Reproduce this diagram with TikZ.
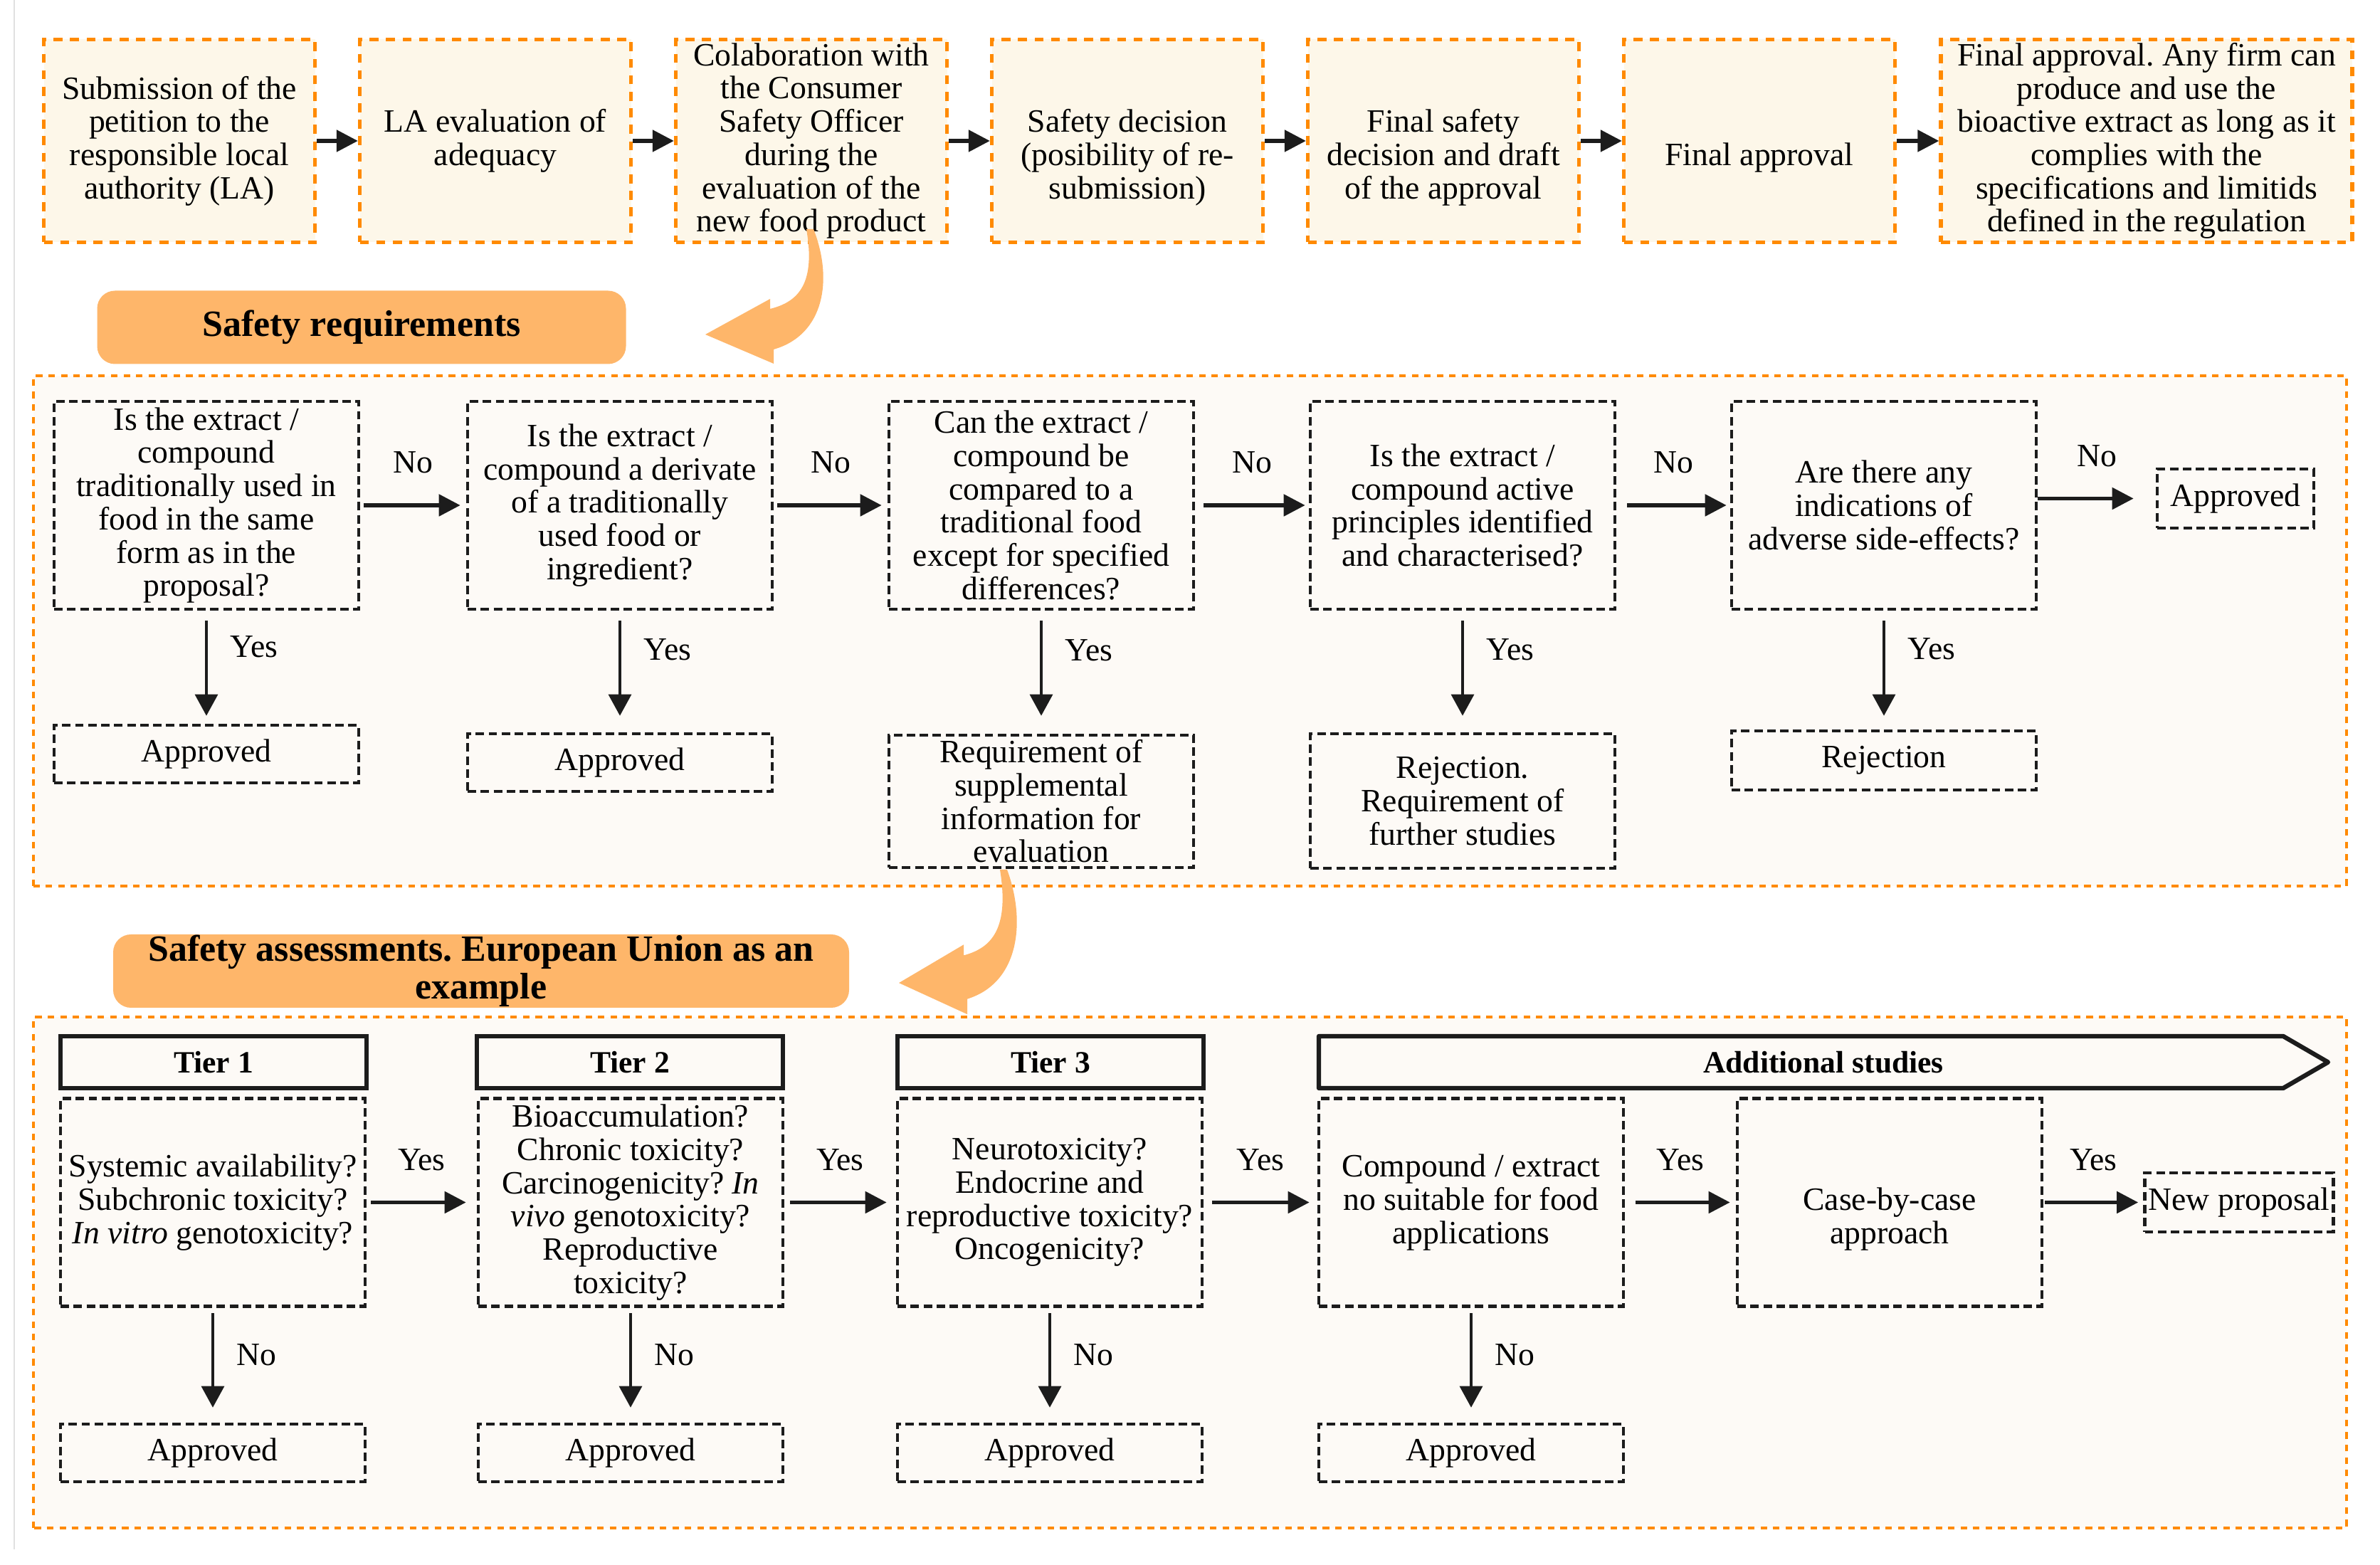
\documentclass[tikz,border=0pt]{standalone}
\usepackage{fontspec}
\setmainfont{Liberation Serif}
\usetikzlibrary{arrows.meta,positioning}
\frenchspacing

\definecolor{lineorange}{RGB}{255,138,0}
\definecolor{stagefill}{RGB}{253,247,233}
\definecolor{panelfill}{RGB}{253,250,246}
\definecolor{bannerfill}{RGB}{254,182,106}
\definecolor{ink}{RGB}{28,28,28}

\newcommand\bodyfont{\fontsize{13}{13.3}\selectfont}
\newcommand\bannerfont{\fontsize{14.8}{15.1}\selectfont\bfseries}
\newcommand\tierfont{\fontsize{12.4}{13}\selectfont\bfseries}
\newcommand\gapline{\rule{0pt}{9pt}\\}

\tikzset{
  stage/.style={draw=lineorange, fill=stagefill, line width=1.5pt, dash pattern=on 3.6pt off 3pt,
    minimum width=3.81cm, minimum height=2.85cm, inner sep=0pt, align=center, font=\bodyfont},
  query/.style={draw=ink, line width=1.3pt, dash pattern=on 3.4pt off 1.8pt,
    minimum width=4.28cm, minimum height=2.92cm, inner sep=0pt, align=center, font=\bodyfont},
  outcome/.style={query, minimum height=0.81cm},
  tierbox/.style={draw=ink, line width=1.8pt, minimum width=4.3cm, minimum height=0.73cm,
    inner sep=0pt, font=\tierfont},
  banner/.style={fill=bannerfill, rounded corners=0.25cm, minimum height=1.03cm, inner sep=0pt,
    align=center, font=\bannerfont},
  panel/.style={draw=lineorange, fill=panelfill, line width=1.3pt, dash pattern=on 2.6pt off 2.4pt},
  flow/.style={draw=ink, line width=1.5pt, -{Triangle[length=0.3cm,width=0.3cm]}},
  drop/.style={draw=ink, line width=0.9pt, -{Triangle[length=0.3cm,width=0.32cm]}},
  lbl/.style={font=\bodyfont, inner sep=0.1cm},
  bendarrow/.pic={
    \fill[bannerfill] (0.05,0) .. controls (0.32,-0.68) and (0.22,-1.48) .. (-0.51,-1.69)
      -- (-0.51,-1.89) -- (-1.47,-1.48) -- (-0.56,-0.98) -- (-0.56,-1.12)
      .. controls (-0.15,-1.02) and (0.08,-0.75) .. (-0.05,0) -- cycle;
  }
}

\begin{document}
\begin{tikzpicture}
  \useasboundingbox (0,0) rectangle (33.44,21.99);
  \draw[black!12, line width=0.6pt] (0.2,21.99) -- (0.2,0.22);

  \node[stage] (b1) at (2.52,20.01) {Submission of the\\petition to the\\responsible local\\authority (LA)};
  \node[stage] (b2) at (6.96,20.01) {LA evaluation of\\adequacy};
  \node[stage] (b3) at (11.40,20.01) {Colaboration with\\the Consumer\\Safety Officer\\during the\\evaluation of the\\new food product};
  \node[stage] (b4) at (15.84,20.01) {\gapline Safety decision\\(posibility of re-\\submission)};
  \node[stage] (b5) at (20.28,20.01) {\gapline Final safety\\decision and draft\\of the approval};
  \node[stage] (b6) at (24.72,20.01) {\gapline Final approval};
  \node[stage, minimum width=5.78cm] (b7) at (30.16,20.01) {Final approval. Any firm can\\produce and use the\\bioactive extract as long as it\\complies with the\\specifications and limitids\\defined in the regulation};

  \draw[flow] (b1) -- (b2);
  \draw[flow] (b2) -- (b3);
  \draw[flow] (b3) -- (b4);
  \draw[flow] (b4) -- (b5);
  \draw[flow] (b5) -- (b6);
  \draw[flow] (b6) -- (b7);

  \draw[panel] (0.47,9.54) rectangle (32.97,16.71);
  \node[banner, minimum width=7.43cm] (reqlabel) at (5.08,17.39) {Safety requirements};

  \node[query] (q1) at (2.90,14.89) {Is the extract /\\compound\\traditionally used in\\food in the same\\form as in the\\proposal?};
  \node[query] (q2) at (8.71,14.89) {Is the extract /\\compound a derivate\\of a traditionally\\used food or\\ingredient?};
  \node[query] (q3) at (14.63,14.89) {Can the extract /\\compound be\\compared to a\\traditional food\\except for specified\\differences?};
  \node[query] (q4) at (20.55,14.89) {Is the extract /\\compound active\\principles identified\\and characterised?};
  \node[query] (q5) at (26.47,14.89) {Are there any\\indications of\\adverse side-effects?};
  \node[outcome, minimum width=2.20cm, minimum height=0.83cm] (ok5) at (31.41,14.985) {Approved};

  \node[outcome] (a1) at (2.90,11.395) {Approved};
  \node[outcome] (a2) at (8.71,11.275) {Approved};
  \node[outcome, minimum height=1.86cm] (r3) at (14.63,10.73) {Requirement of\\supplemental\\information for\\evaluation};
  \node[outcome, minimum height=1.89cm] (r4) at (20.55,10.735) {Rejection.\\Requirement of\\further studies};
  \node[outcome, minimum height=0.83cm] (r5) at (26.47,11.305) {Rejection};

  \draw[flow, shorten <=0.05cm, shorten >=0.08cm] (q1) -- (q2) node[lbl, above=0.32cm, midway] (no1) {No};
  \draw[flow, shorten <=0.05cm, shorten >=0.08cm] (q2) -- (q3) node[lbl, above=0.32cm, midway] (no2) {No};
  \draw[flow, shorten <=0.12cm, shorten >=0.05cm] (q3) -- (q4) node[lbl, above=0.32cm, midway] (no3) {No};
  \draw[flow, shorten <=0.15cm, shorten >=0.05cm] (q4) -- (q5) node[lbl, above=0.32cm, midway] (no4) {No};
  \draw[flow, shorten >=0.31cm] (q5.east |- ok5) -- (ok5) node[lbl, above=0.32cm, midway] (no5) {No};

  \draw[drop, shorten <=0.14cm, shorten >=0.11cm] (q1) -- (a1) node[lbl, right=0.22cm, pos=0.32] (yes1) {Yes};
  \draw[drop, shorten <=0.14cm, shorten >=0.23cm] (q2) -- (a2) node[lbl, right=0.22cm, pos=0.32] (yes2) {Yes};
  \draw[drop, shorten <=0.14cm, shorten >=0.25cm] (q3) -- (r3) node[lbl, right=0.22cm, pos=0.32] (yes3) {Yes};
  \draw[drop, shorten <=0.14cm, shorten >=0.23cm] (q4) -- (r4) node[lbl, right=0.22cm, pos=0.32] (yes4) {Yes};
  \draw[drop, shorten <=0.14cm, shorten >=0.19cm] (q5) -- (r5) node[lbl, right=0.22cm, pos=0.32] (yes5) {Yes};

  \draw[panel] (0.47,0.52) rectangle (32.97,7.70);
  \node[banner, minimum width=10.34cm] (assesslabel) at (6.76,8.345) {Safety assessments. European Union as an\\example};

  \node[tierbox] (tier1) at (3.00,7.065) {Tier 1};
  \node[tierbox] (tier2) at (8.85,7.065) {Tier 2};
  \node[tierbox] (tier3) at (14.76,7.065) {Tier 3};
  \draw[draw=ink, line width=1.8pt, line join=round] (18.53,7.43) -- (32.08,7.43) -- (32.71,7.065) -- (32.08,6.70) -- (18.53,6.70) -- cycle;
  \node[font=\tierfont] (addlabel) at (25.62,7.065) {Additional studies};

  \node[query] (t1) at (2.99,5.095) {Systemic availability?\\Subchronic toxicity?\\\textit{In vitro} genotoxicity?};
  \node[query] (t2) at (8.86,5.095) {Bioaccumulation?\\Chronic toxicity?\\Carcinogenicity? \textit{In}\\\textit{vivo} genotoxicity?\\Reproductive\\toxicity?};
  \node[query] (t3) at (14.75,5.095) {Neurotoxicity?\\Endocrine and\\reproductive toxicity?\\Oncogenicity?};
  \node[query] (t4) at (20.67,5.095) {Compound / extract\\no suitable for food\\applications};
  \node[query] (t5) at (26.55,5.095) {\gapline Case-by-case\\approach};
  \node[outcome, minimum width=2.65cm, minimum height=0.83cm] (np) at (31.46,5.095) {New proposal};

  \node[outcome] (ap1) at (2.99,1.575) {Approved};
  \node[outcome] (ap2) at (8.86,1.575) {Approved};
  \node[outcome] (ap3) at (14.75,1.575) {Approved};
  \node[outcome] (ap4) at (20.67,1.575) {Approved};

  \draw[flow, shorten <=0.06cm, shorten >=0.15cm] (t1) -- (t2) node[lbl, above=0.32cm, midway] (yes6) {Yes};
  \draw[flow, shorten <=0.08cm, shorten >=0.13cm] (t2) -- (t3) node[lbl, above=0.32cm, midway] (yes7) {Yes};
  \draw[flow, shorten <=0.12cm, shorten >=0.11cm] (t3) -- (t4) node[lbl, above=0.32cm, midway] (yes8) {Yes};
  \draw[flow, shorten <=0.15cm, shorten >=0.08cm] (t4) -- (t5) node[lbl, above=0.32cm, midway] (yes9) {Yes};
  \draw[flow, shorten <=0.02cm, shorten >=0.07cm] (t5) -- (np) node[lbl, above=0.32cm, midway] (yes10) {Yes};

  \draw[drop, shorten <=0.075cm, shorten >=0.21cm] (t1) -- (ap1) node[lbl, right=0.22cm, pos=0.41] (no6) {No};
  \draw[drop, shorten <=0.075cm, shorten >=0.21cm] (t2) -- (ap2) node[lbl, right=0.22cm, pos=0.41] (no7) {No};
  \draw[drop, shorten <=0.075cm, shorten >=0.21cm] (t3) -- (ap3) node[lbl, right=0.22cm, pos=0.41] (no8) {No};
  \draw[drop, shorten <=0.075cm, shorten >=0.21cm] (t4) -- (ap4) node[lbl, right=0.22cm, pos=0.41] (no9) {No};

  \pic at (11.38,18.77) {bendarrow};
  \pic[yscale=1.075] at (14.10,9.77) {bendarrow};
\end{tikzpicture}
\end{document}
